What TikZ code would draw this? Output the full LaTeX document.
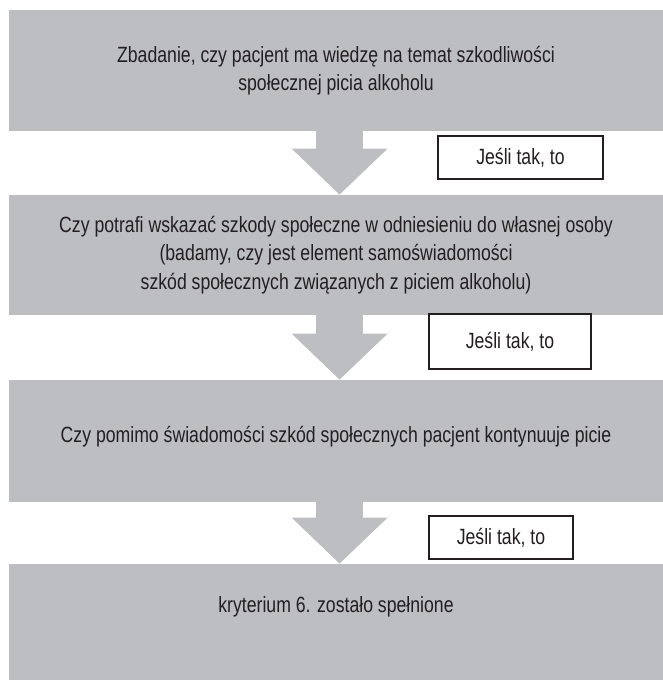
\documentclass[tikz,border=0pt]{standalone}
\usepackage{fontspec}
\setmainfont{Liberation Sans}[FakeStretch=0.8]
\usetikzlibrary{arrows.meta,positioning,calc}
\definecolor{boxgray}{RGB}{189,190,194}
\definecolor{inkgray}{RGB}{35,31,32}
\begin{document}
\begin{tikzpicture}[
    font=\fontsize{15.7}{20.1}\selectfont, text=inkgray,
    box/.style={fill=boxgray, minimum width=16.35cm, align=center, inner sep=0pt},
    lbl/.style={draw=inkgray, line width=0.85pt, fill=white, align=center, inner sep=0pt},
    arr/.style={draw=boxgray, line width=1.175cm, -{Triangle[width=2.325cm, length=1.15cm]}}
]
\useasboundingbox (0,0) rectangle (16.575,-17);
\node[box, minimum height=3.025cm] (b1) at (8.4,-1.7625) {Zbadanie, czy pacjent ma wiedzę na temat szkodliwości\\społecznej picia alkoholu};
\node[box, minimum height=3.0cm] (b2) at (8.4,-6.375) {Czy potrafi wskazać szkody społeczne w odniesieniu do własnej osoby\\(badamy, czy jest element samoświadomości\\szkód społecznych związanych z piciem alkoholu)};
\node[box, minimum height=3.05cm, text depth=0.32cm] (b3) at (8.4,-11.025) {Czy pomimo świadomości szkód społecznych pacjent kontynuuje picie};
\node[box, minimum height=2.9cm, text depth=0.87cm] (b4) at (8.4,-15.55) {kryterium 6. zostało spełnione};

\draw[arr] ([xshift=0.09cm]b1.south) -- ([xshift=0.09cm]b2.north);
\draw[arr] ([xshift=0.09cm]b2.south) -- ([xshift=0.09cm]b3.north);
\draw[arr] ([xshift=0.09cm]b3.south) -- ([xshift=0.09cm]b4.north);

\node[lbl, minimum width=4.125cm, minimum height=1.075cm] (l1) at (13.0125,-3.9375) {Jeśli tak, to};
\node[lbl, minimum width=4.05cm, minimum height=1.375cm] (l2) at (12.75,-8.5375) {Jeśli tak, to};
\node[lbl, minimum width=3.6cm, minimum height=1.075cm] (l3) at (12.525,-13.4375) {Jeśli tak, to};
\end{tikzpicture}
\end{document}
